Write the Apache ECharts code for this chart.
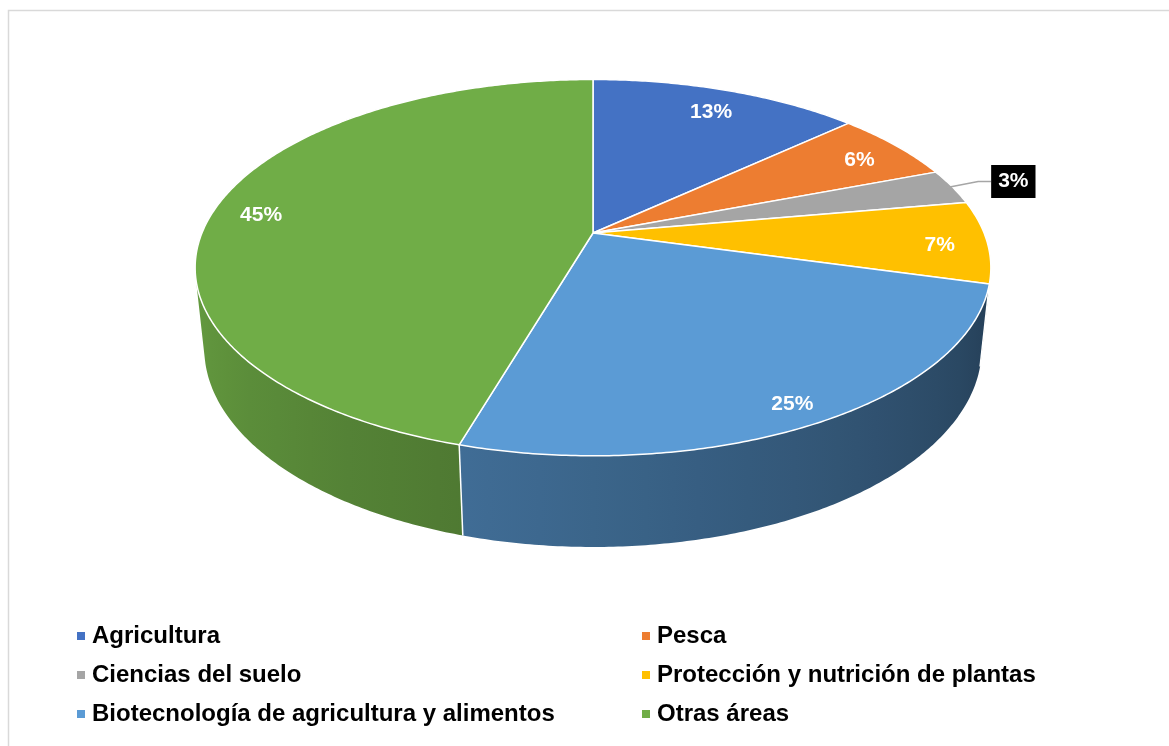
<!DOCTYPE html>
<html><head><meta charset="utf-8">
<script src="https://cdn.jsdelivr.net/npm/echarts@6/dist/echarts.min.js"></script>
<style>html,body{margin:0;padding:0;background:#fff}#chart{width:1169px;height:746px}</style>
</head><body><div id="chart"></div>
<script>
const categories = ['Agricultura', 'Pesca', 'Ciencias del suelo', 'Protección y nutrición de plantas', 'Biotecnología de agricultura y alimentos', 'Otras áreas'];
const values = [13, 6, 3, 7, 25, 45];
const colors = ['#4472c4', '#ed7d31', '#a5a5a5', '#ffc000', '#5b9bd5', '#70ad47'];
const legendLeft = [categories[0], categories[2], categories[4]];
const legendRight = [categories[1], categories[3], categories[5]];

const FONT = '"Liberation Sans", Arial, sans-serif';
const total = values.reduce((a, b) => a + b, 0);
const starts = []; let acc = 0; values.forEach(v => { starts.push(acc); acc += v; });

// simple perspective camera for the 3D disc
const CX = 593, CY = 233, F = 1881, D = 4.81, TILT = 27.7 * Math.PI / 180;
const S = Math.sin(TILT), C = Math.cos(TILT), H = 0.2355;
function proj(r, a, h) {
  const x = r * Math.sin(a), z = -r * Math.cos(a);
  const d = D - (h * S + z * C);
  return [CX + x * F / d, CY - (h * C - z * S) * F / d];
}
const AMIN = Math.acos(-1 / (D * C)), AMAX = 2 * Math.PI - AMIN;
const EY = (proj(1, 0, 0)[1] + proj(1, Math.PI, 0)[1]) / 2;
function bright(a) { const t = (a - AMIN) / (AMAX - AMIN); return 0.4 + 0.5 * t; }
function shade(hex, k) {
  const n = parseInt(hex.slice(1), 16);
  const r = (n >> 16) & 255, g = (n >> 8) & 255, b = n & 255;
  return 'rgb(' + Math.round(r * k) + ',' + Math.round(g * k) + ',' + Math.round(b * k) + ')';
}

function renderItem(params, api) {
  const i = params.dataIndex;
  const v = api.value(0);
  const a0 = starts[i] / total * 2 * Math.PI, a1 = (starts[i] + v) / total * 2 * Math.PI;
  const children = [];
  // outer wall (front-facing part only)
  const w0 = Math.max(a0, AMIN), w1 = Math.min(a1, AMAX);
  if (w1 > w0) {
    const n = Math.max(2, Math.ceil((w1 - w0) / 0.01));
    const topPts = [], botPts = [];
    for (let k = 0; k <= n; k++) {
      const a = w0 + (w1 - w0) * k / n;
      topPts.push(proj(1, a, 0)); botPts.push(proj(1, a, -H));
    }
    const pts = topPts.concat(botPts.reverse());
    const xl = proj(1, AMAX, 0)[0], xr = proj(1, AMIN, 0)[0];
    const stops = [];
    for (let k = 0; k <= 24; k++) {
      const a = AMAX - (AMAX - AMIN) * k / 24;
      const x = proj(1, a, 0)[0];
      stops.push({ offset: Math.min(1, Math.max(0, (x - xl) / (xr - xl))), color: shade(colors[i], bright(a)) });
    }
    children.push({
      type: 'polygon', z2: 1, shape: { points: pts },
      style: { fill: new echarts.graphic.LinearGradient(xl, 0, xr, 0, stops, true) }
    });
  }
  if (a0 > AMIN && a0 < AMAX) {
    const p = proj(1, a0, 0), q = proj(1, a0, -H);
    children.push({ type: 'line', z2: 2, shape: { x1: p[0], y1: p[1], x2: q[0], y2: q[1] }, style: { stroke: '#fff', lineWidth: 1.5 } });
  }
  // top face
  const topFace = [[CX, CY]];
  const m = Math.max(2, Math.ceil((a1 - a0) / 0.01));
  for (let k = 0; k <= m; k++) topFace.push(proj(1, a0 + (a1 - a0) * k / m, 0));
  children.push({
    type: 'polygon', z2: 10, shape: { points: topFace },
    style: { fill: colors[i], stroke: '#fff', lineWidth: 1.5, lineJoin: 'round' }
  });
  // label
  const mid = (a0 + a1) / 2;
  const txt = Math.round(v / total * 100) + '%';
  if (v >= 5) {
    const rim = proj(1, mid, 0);
    const p = [CX + 0.88 * (rim[0] - CX), EY + 0.88 * (rim[1] - EY)];
    children.push({
      type: 'text', z2: 20, x: p[0], y: p[1],
      style: { text: txt, fill: '#fff', fontSize: 21, fontWeight: 'bold', fontFamily: FONT, align: 'center', verticalAlign: 'middle' }
    });
  } else {
    const p = proj(0.985, mid, 0);
    const e = [p[0] + 31, p[1] - 6], f = [p[0] + 44, p[1] - 6];
    children.push({
      type: 'polyline', z2: 15, shape: { points: [p, e, f] },
      style: { stroke: '#a6a6a6', lineWidth: 1.5, fill: null }
    });
    children.push({
      type: 'text', z2: 20, x: f[0], y: f[1],
      style: { text: txt, fill: '#fff', fontSize: 21, fontWeight: 'bold', fontFamily: FONT, align: 'left', verticalAlign: 'middle',
        backgroundColor: '#000', padding: [7, 7, 5, 7] }
    });
  }
  return { type: 'group', children: children };
}

const legendText = { fontSize: 24, fontWeight: 'bold', color: '#000', fontFamily: FONT, lineHeight: 24, padding: [0, 0, 0, 2] };
const chart = echarts.init(document.getElementById('chart'));
chart.setOption({
  animation: false,
  backgroundColor: '#fff',
  graphic: [{
    type: 'rect', x: 0, y: 0, silent: true,
    shape: { x: 8.5, y: 10.5, width: 1300, height: 900 },
    style: { fill: 'none', stroke: '#d9d9d9', lineWidth: 1.5 }
  }],
  legend: [
    { data: legendLeft, orient: 'vertical', left: 72, top: 619, itemWidth: 8, itemHeight: 8, itemGap: 15, icon: 'rect', selectedMode: false, textStyle: legendText },
    { data: legendRight, orient: 'vertical', left: 637, top: 619, itemWidth: 8, itemHeight: 8, itemGap: 15, icon: 'rect', selectedMode: false, textStyle: legendText }
  ],
  series: [
    {
      type: 'custom', name: 'pie3d', coordinateSystem: 'none', renderItem: renderItem,
      data: values.map((v, i) => ({ name: categories[i], value: [v] }))
    },
    {
      type: 'pie', name: 'legend', radius: [0, 0], center: [-100, -100], silent: true,
      label: { show: false }, labelLine: { show: false }, itemStyle: { borderWidth: 0 },
      data: values.map((v, i) => ({ name: categories[i], value: v, itemStyle: { color: colors[i] } }))
    }
  ]
});
</script></body></html>
